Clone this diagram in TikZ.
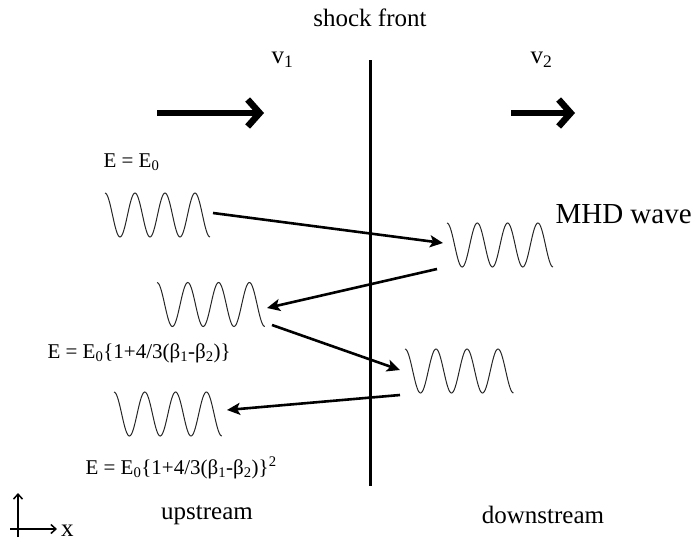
\documentclass[tikz,border=0pt]{standalone}
\usepackage{fontspec}
\setmainfont{Liberation Serif}
\usetikzlibrary{arrows.meta}
\tikzset{
  bigfont/.style={font=\fontsize{25}{30}\selectfont},
  eqfont/.style={font=\fontsize{21}{25}\selectfont},
  wavepath/.style={line width=1pt, black!85},
  thin arrow/.style={line width=2.6pt, -{Stealth[length=13pt,width=12pt,inset=3pt]}},
  thick arrow/.style={line width=6.5pt, -{Straight Barb[length=12pt,width=27pt,line width=6.5pt]}},
  axis arrow/.style={line width=1.5pt, -{Straight Barb[length=5pt,width=9pt,line width=1.5pt]}},
}
\newcommand{\wave}[3]{% x0, yc, period
  \draw[wavepath] plot[domain=0:3.5, samples=120, smooth] ({#1+#3*\x},{#2-22*cos(360*\x)});
}
\begin{document}
\begin{tikzpicture}[x=1pt,y=-1pt]
\useasboundingbox (0,0) rectangle (695,543);

% shock front
\coordinate (sT) at (370,60);
\coordinate (sB) at (370,486);
\draw[line width=3pt] (sT) -- (sB);
\node[bigfont] (shock) at (370,18) {shock front};

% velocities
\node[bigfont, anchor=west] (v1) at (268,60) {v\textsubscript{1}};
\node[bigfont, anchor=west] (v2) at (527,60) {v\textsubscript{2}};
\coordinate (a1s) at (157,113); \coordinate (a1e) at (264,113);
\coordinate (a2s) at (511,113); \coordinate (a2e) at (575,113);
\draw[thick arrow] (a1s) -- (a1e);
\draw[thick arrow] (a2s) -- (a2e);

% waves
\wave{105}{215}{30}
\wave{447}{245}{30.3}
\wave{157}{304.5}{30.8}
\wave{405}{371}{31}
\wave{114}{414}{30.8}

% connector end points
\coordinate (w1out) at (213,213);
\coordinate (w2in) at (443,243);
\coordinate (w2out) at (437,269);
\coordinate (w3in) at (267,308);
\coordinate (w3out) at (272,325);
\coordinate (w5in) at (400,370);
\coordinate (w5out) at (400,395);
\coordinate (w4in) at (227,410);

\draw[thin arrow] (w1out) -- (w2in);
\draw[thin arrow] (w2out) -- (w3in);
\draw[thin arrow] (w3out) -- (w5in);
\draw[thin arrow] (w5out) -- (w4in);

% labels
\node[eqfont, anchor=west] (e0) at (100,162) {E = E\textsubscript{0}};
\node[anchor=west, font=\fontsize{29}{34}\selectfont] (mhd) at (552,214) {MHD wave};
\node[eqfont, anchor=west] (e1) at (44,353) {E = E\textsubscript{0}\{1+4/3(β\textsubscript{1}-β\textsubscript{2})\}};
\node[eqfont, anchor=west] (e2) at (82,468) {E = E\textsubscript{0}\{1+4/3(β\textsubscript{1}-β\textsubscript{2})\}\textsuperscript{2}};
\node[bigfont] (up) at (207,515) {upstream};
\node[bigfont] (down) at (543,515) {downstream};

% axes
\coordinate (o1) at (18,537); \coordinate (yend) at (18,493);
\coordinate (o2) at (10,529); \coordinate (xend) at (57,529);
\draw[axis arrow] (o1) -- (yend);
\draw[axis arrow] (o2) -- (xend);
\node[bigfont, anchor=west, inner sep=1pt] (xlab) at (60,531) {x};
\end{tikzpicture}
\end{document}
